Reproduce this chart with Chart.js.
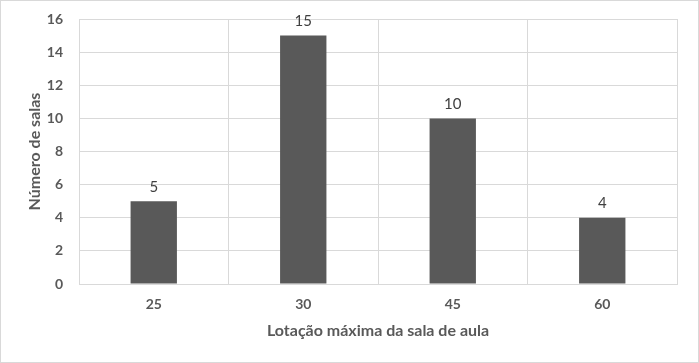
<!DOCTYPE html>
<html>
<head>
<meta charset="utf-8">
<script src="https://cdn.jsdelivr.net/npm/chart.js@4/dist/chart.umd.min.js"></script>
<style>
  html, body { margin: 0; padding: 0; background: #fff; }
  #wrap { position: absolute; left: 0; top: 0; width: 697px; height: 361px; border: 1px solid #d9d9d9; }
</style>
</head>
<body>
<div id="wrap"><canvas id="roomsChart" width="697" height="361"></canvas></div>
<script>
var capacities = ["25", "30", "45", "60"];
var roomCounts = [5, 15, 10, 4];
var yTicks = [0, 2, 4, 6, 8, 10, 12, 14, 16];

var fontFamily = 'Lato, "Open Sans", sans-serif';

// draws the value above every bar, like excel data labels
var valueLabels = {
    id: 'valueLabels',
    afterDatasetsDraw: function(chart) {
        var ctx = chart.ctx;
        var meta = chart.getDatasetMeta(0);
        ctx.save();
        ctx.font = '15px ' + fontFamily;
        ctx.fillStyle = '#404040';
        ctx.textAlign = 'center';
        ctx.textBaseline = 'bottom';
        meta.data.forEach(function(bar, i) {
            ctx.fillText(chart.data.datasets[0].data[i], bar.x, bar.y - 7);
        });
        ctx.restore();
    }
};

new Chart(document.getElementById("roomsChart"), {
    type: 'bar',
    data: {
        labels: capacities,
        datasets: [{
            data: roomCounts,
            backgroundColor: "#595959",
            barPercentage: 0.31,
            categoryPercentage: 1
        }]
    },
    options: {
        responsive: false,
        animation: false,
        layout: {
            padding: { top: 18, right: 21, bottom: 22, left: 21 }
        },
        plugins: {
            legend: { display: false },
            tooltip: { enabled: false }
        },
        scales: {
            x: {
                afterFit: function(axis) {
                    axis.height = 56;
                    axis.paddingLeft = 0;
                    axis.paddingRight = 0;
                },
                grid: { color: "#d9d9d9", offset: true, drawTicks: false },
                border: { color: "#d9d9d9" },
                ticks: {
                    padding: 12,
                    color: "#595959",
                    font: { family: fontFamily, size: 14, weight: 'bold' }
                },
                title: {
                    display: true,
                    text: "Lotação máxima da sala de aula",
                    color: "#595959",
                    padding: { top: 0, bottom: 0 },
                    font: { family: fontFamily, size: 16, weight: 'bold' }
                }
            },
            y: {
                min: 0,
                max: 16,
                afterBuildTicks: function(axis) {
                    axis.ticks = yTicks.map(function(v) { return { value: v }; });
                },
                afterFit: function(axis) {
                    axis.width = 57;
                    axis.paddingTop = 0;
                    axis.paddingBottom = 0;
                },
                grid: { color: "#d9d9d9", drawTicks: false },
                border: { display: false },
                ticks: {
                    padding: 16,
                    color: "#595959",
                    font: { family: fontFamily, size: 14, weight: 'bold' }
                },
                title: {
                    display: true,
                    text: "Número de salas",
                    color: "#595959",
                    padding: { top: 3, bottom: 0 },
                    font: { family: fontFamily, size: 16, weight: 'bold' }
                }
            }
        }
    },
    plugins: [valueLabels]
});
</script>
</body>
</html>
